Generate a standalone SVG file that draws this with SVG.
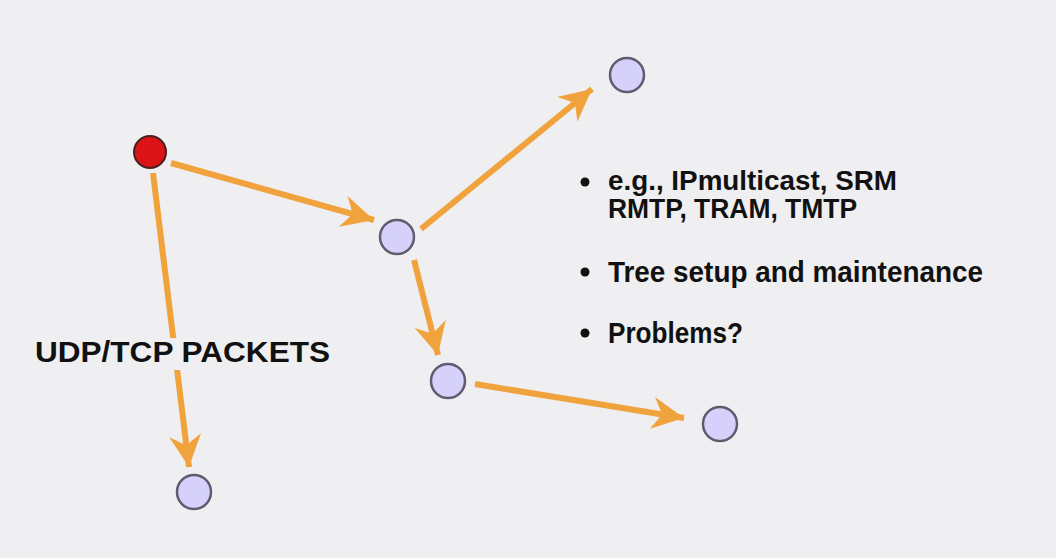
<svg xmlns="http://www.w3.org/2000/svg" width="1056" height="558" viewBox="0 0 1056 558">
  <style>
    .edge { stroke: #f0a23c; stroke-width: 6; fill: none; stroke-linecap: butt; }
    .node { fill: #d5d1fb; stroke: #5e5c6e; stroke-width: 2.5; }
    .src { fill: #dc1417; stroke: #4a2020; stroke-width: 2; }
    .txt { font-family: "Liberation Sans", Arial, sans-serif; font-weight: bold; fill: #111; }
  </style>
  <defs>
    <!-- barbed arrowhead shared by every connector -->
    <marker id="arrow" markerUnits="userSpaceOnUse" markerWidth="44" markerHeight="44" refX="32" refY="16" orient="auto">
      <path d="M0,0 L32,16 L0,32 L10,16 Z" fill="#f0a23c"/>
    </marker>
  </defs>
  <rect width="1056" height="558" fill="#efeef0"/>

  <g id="connectors">
    <line class="edge" x1="171" y1="163" x2="374" y2="220" marker-end="url(#arrow)"/>
    <line class="edge" x1="153" y1="173" x2="189" y2="467" marker-end="url(#arrow)"/>
    <line class="edge" x1="421" y1="229" x2="592" y2="89" marker-end="url(#arrow)"/>
    <line class="edge" x1="414" y1="260" x2="438" y2="355" marker-end="url(#arrow)"/>
    <line class="edge" x1="475" y1="384" x2="684" y2="418" marker-end="url(#arrow)"/>
  </g>

  <g id="label-packets">
    <rect x="30" y="338" width="305" height="32" fill="#efeef0"/>
    <text class="txt" x="35" y="362" font-size="29" textLength="295" lengthAdjust="spacingAndGlyphs">UDP/TCP PACKETS</text>
  </g>

  <g id="source"><circle class="src" cx="150" cy="152" r="16"/></g>
  <g id="n1"><circle class="node" cx="397" cy="237" r="17"/></g>
  <g id="n2"><circle class="node" cx="627" cy="75" r="17"/></g>
  <g id="n3"><circle class="node" cx="448" cy="381" r="17"/></g>
  <g id="n4"><circle class="node" cx="720" cy="424" r="17"/></g>
  <g id="n5"><circle class="node" cx="194" cy="492" r="17"/></g>

  <g id="notes">
    <circle cx="585" cy="182" r="4.5" fill="#111"/>
    <text class="txt" x="608" y="190" font-size="27" textLength="289" lengthAdjust="spacingAndGlyphs">e.g., IPmulticast, SRM</text>
    <text class="txt" x="608" y="218" font-size="27" textLength="249" lengthAdjust="spacingAndGlyphs">RMTP, TRAM, TMTP</text>
    <circle cx="585" cy="272" r="4.5" fill="#111"/>
    <text class="txt" x="608" y="282" font-size="29" textLength="375" lengthAdjust="spacingAndGlyphs">Tree setup and maintenance</text>
    <circle cx="585" cy="333" r="4.5" fill="#111"/>
    <text class="txt" x="608" y="343" font-size="29" textLength="135" lengthAdjust="spacingAndGlyphs">Problems?</text>
  </g>
</svg>
